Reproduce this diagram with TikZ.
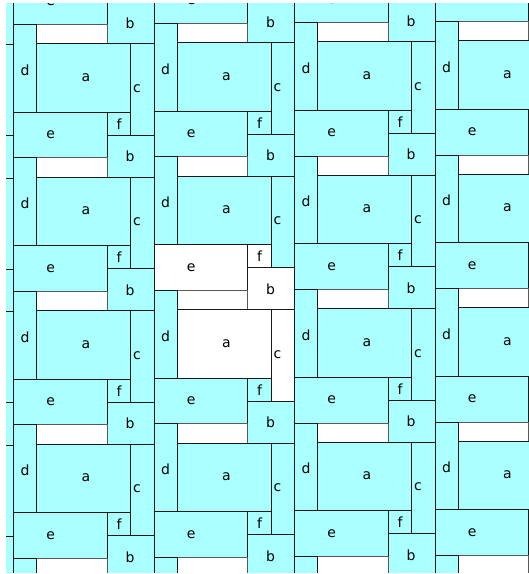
\documentclass[tikz,border=0pt]{standalone}
\usepackage{fontspec}
\setmainfont{DejaVu Sans}
\definecolor{tilecyan}{RGB}{170,255,255}
\newcommand{\tilelabel}[4]{%
  \pgfmathtruncatemacro{\labvis}{and(and(\ox+#2>0,\ox+#2<535),and(\oy+#3>-8,\oy+#3<582))}%
  \ifnum\labvis=1 \node[lbl] (#1) at (#2,#3) {#4};\fi}
\begin{document}
\begin{tikzpicture}[x=1pt,y=-1pt,
  tilebox/.style={fill=tilecyan,draw=black!90,line width=1pt},
  blankbox/.style={fill=white,draw=black!90,line width=1pt},
  gapbox/.style={fill=white,draw=black!65,line width=1pt},
  lbl/.style={font=\fontsize{14}{16}\selectfont,inner sep=0pt}]
\useasboundingbox (0,0) rectangle (529,574);
\clip (6,3.3) rectangle (528.8,572.4);
\foreach \i in {-1,...,4}{
 \foreach \j in {-1,...,4}{
  \pgfmathsetmacro{\ox}{13.5+140.5*\i}
  \pgfmathsetmacro{\oy}{112.3+133.5*\j-0.95*\i}
  \pgfmathtruncatemacro{\wefb}{and(\i==1,\j==1)}
  \pgfmathtruncatemacro{\wac}{and(\i==1,\j==2)}
  \ifnum\wefb=1 \def\efbst{blankbox}\else\def\efbst{tilebox}\fi
  \ifnum\wac=1 \def\acst{blankbox}\else\def\acst{tilebox}\fi
  \begin{scope}[shift={(\ox,\oy)}]
   \draw[gapbox] (23.4,-87.9) rectangle (93.6,-68.5);
   \draw[tilebox] (0,-87.9) rectangle (23.4,0);
   \draw[\acst] (23.4,-68.5) rectangle (117.4,0);
   \draw[\acst] (117.4,-68.5) rectangle (140.5,22.7);
   \draw[\efbst] (0,0) rectangle (93.6,45.6);
   \draw[\efbst] (93.6,0) rectangle (117.4,22.7);
   \draw[\efbst] (93.6,22.7) rectangle (140.5,65);
   \tilelabel{a-\i-\j}{72.5}{-35}{a}
   \tilelabel{d-\i-\j}{11.5}{-42.3}{d}
   \tilelabel{c-\i-\j}{123.5}{-24}{c}
   \tilelabel{e-\i-\j}{37.2}{22.7}{e}
   \tilelabel{f-\i-\j}{105.5}{11.7}{f}
   \tilelabel{b-\i-\j}{116.5}{44}{b}
  \end{scope}
 }
}
\end{tikzpicture}
\end{document}
